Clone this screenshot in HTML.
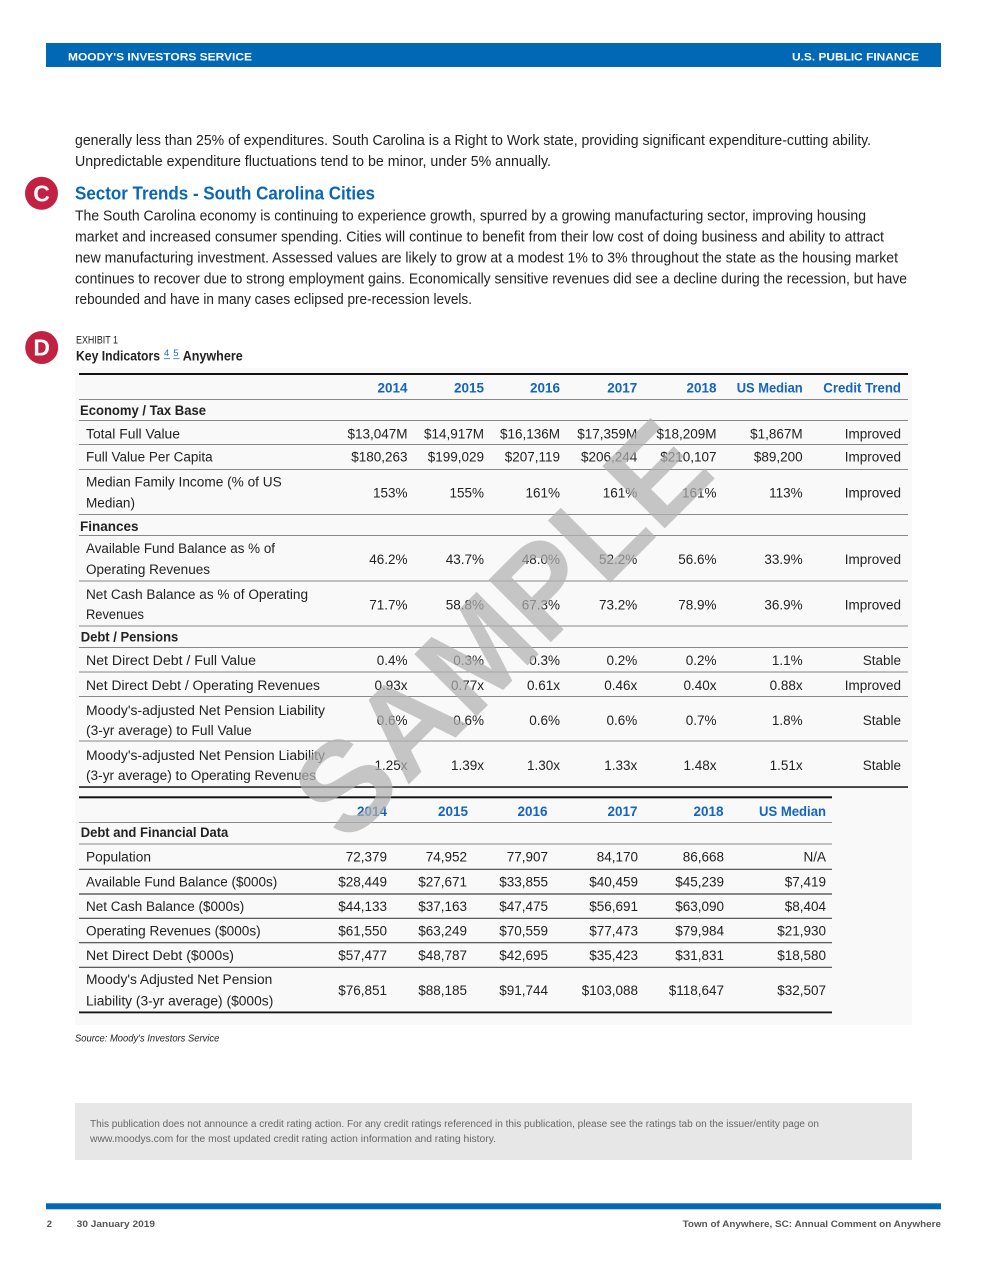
<!DOCTYPE html>
<html><head><meta charset="utf-8"><style>
html,body{margin:0;padding:0;background:#fff;}
svg{display:block;}
text{font-family:"Liberation Sans",Arial,sans-serif;}
</style></head><body>
<svg width="982" height="1271" viewBox="0 0 982 1271" xmlns="http://www.w3.org/2000/svg">
<rect width="982" height="1271" fill="#fff"/>
<!-- header -->
<rect x="46" y="43" width="895" height="24" fill="#0068b4"/>
<text x="68" y="60.5" font-size="11" font-weight="bold" fill="#fff" textLength="184" lengthAdjust="spacingAndGlyphs">MOODY'S INVESTORS SERVICE</text>
<text x="792" y="60.5" font-size="11" font-weight="bold" fill="#fff" textLength="127" lengthAdjust="spacingAndGlyphs">U.S. PUBLIC FINANCE</text>

<!-- paragraph 1 -->
<g font-size="14.5" fill="#222">
<text x="75" y="145" textLength="796" lengthAdjust="spacingAndGlyphs">generally less than 25% of expenditures. South Carolina is a Right to Work state, providing significant expenditure-cutting ability.</text>
<text x="75" y="166" textLength="476" lengthAdjust="spacingAndGlyphs">Unpredictable expenditure fluctuations tend to be minor, under 5% annually.</text>
</g>

<!-- C heading -->
<circle cx="41.5" cy="193.3" r="16.5" fill="#c32141"/>
<text x="41.5" y="201.5" font-size="23" font-weight="bold" fill="#fff" text-anchor="middle">C</text>
<text x="75" y="199.5" font-size="18" font-weight="bold" fill="#0a67b6" textLength="300" lengthAdjust="spacingAndGlyphs">Sector Trends - South Carolina Cities</text>

<g font-size="14.5" fill="#222">
<text x="75" y="220.7" textLength="791" lengthAdjust="spacingAndGlyphs">The South Carolina economy is continuing to experience growth, spurred by a growing manufacturing sector, improving housing</text>
<text x="75" y="241.7" textLength="809" lengthAdjust="spacingAndGlyphs">market and increased consumer spending. Cities will continue to benefit from their low cost of doing business and ability to attract</text>
<text x="75" y="262.3" textLength="823" lengthAdjust="spacingAndGlyphs">new manufacturing investment. Assessed values are likely to grow at a modest 1% to 3% throughout the state as the housing market</text>
<text x="75" y="283.3" textLength="832" lengthAdjust="spacingAndGlyphs">continues to recover due to strong employment gains. Economically sensitive revenues did see a decline during the recession, but have</text>
<text x="75" y="304" textLength="397" lengthAdjust="spacingAndGlyphs">rebounded and have in many cases eclipsed pre-recession levels.</text>
</g>

<!-- D exhibit -->
<circle cx="41.7" cy="347.5" r="16.5" fill="#c32141"/>
<text x="41.7" y="355.7" font-size="23" font-weight="bold" fill="#fff" text-anchor="middle">D</text>
<text x="76" y="343.3" font-size="11" fill="#222" textLength="42" lengthAdjust="spacingAndGlyphs">EXHIBIT 1</text>
<text x="76" y="360.7" font-size="13.5" font-weight="bold" fill="#222" textLength="84" lengthAdjust="spacingAndGlyphs">Key Indicators</text>
<text x="164" y="356" font-size="9.5" fill="#1a6bc4">4</text>
<line x1="164" y1="358.7" x2="170" y2="358.7" stroke="#1a6bc4" stroke-width="0.8"/>
<text x="173.3" y="356" font-size="9.5" fill="#1a6bc4">5</text>
<line x1="173.3" y1="358.7" x2="179.3" y2="358.7" stroke="#1a6bc4" stroke-width="0.8"/>
<text x="182.7" y="360.7" font-size="13.5" font-weight="bold" fill="#222" textLength="60" lengthAdjust="spacingAndGlyphs">Anywhere</text>

<!-- table background -->
<rect x="75" y="368" width="837" height="657" fill="#f9f9f9"/>

<!-- table 1 lines -->
<rect x="79" y="373" width="829" height="2" fill="#111"/>
<g stroke="#888" stroke-width="1">
<line x1="79" y1="399.5" x2="908" y2="399.5"/>
<line x1="79" y1="420.5" x2="908" y2="420.5"/>
<line x1="79" y1="444.5" x2="908" y2="444.5"/>
<line x1="79" y1="469.5" x2="908" y2="469.5"/>
<line x1="79" y1="514.5" x2="908" y2="514.5"/>
<line x1="79" y1="535.5" x2="908" y2="535.5"/>
<line x1="79" y1="581" x2="908" y2="581"/>
<line x1="79" y1="626" x2="908" y2="626"/>
<line x1="79" y1="647.5" x2="908" y2="647.5"/>
<line x1="79" y1="672" x2="908" y2="672"/>
<line x1="79" y1="696.5" x2="908" y2="696.5"/>
<line x1="79" y1="741" x2="908" y2="741"/>
</g>
<rect x="79" y="786.3" width="829" height="1.5" fill="#111"/>

<!-- table 1 header -->
<g font-size="13.5" font-weight="bold" fill="#1464c0" text-anchor="end">
<text x="407.5" y="392.3">2014</text>
<text x="484" y="392.3">2015</text>
<text x="560" y="392.3">2016</text>
<text x="637.3" y="392.3">2017</text>
<text x="716.5" y="392.3">2018</text>
<text x="802.7" y="392.3" textLength="66" lengthAdjust="spacingAndGlyphs">US Median</text>
<text x="901" y="392.3" textLength="77.7" lengthAdjust="spacingAndGlyphs">Credit Trend</text>
</g>

<!-- table 1 labels -->
<g font-size="13.5" font-weight="bold" fill="#222">
<text x="80" y="415" textLength="126" lengthAdjust="spacingAndGlyphs">Economy / Tax Base</text>
<text x="80" y="531">Finances</text>
<text x="80.7" y="641.7" textLength="97.6" lengthAdjust="spacingAndGlyphs">Debt / Pensions</text>
</g>
<g font-size="13.5" fill="#222">
<text x="86" y="438.3" textLength="94" lengthAdjust="spacingAndGlyphs">Total Full Value</text>
<text x="86" y="461.7" textLength="126.7" lengthAdjust="spacingAndGlyphs">Full Value Per Capita</text>
<text x="86" y="486.7" textLength="195.7" lengthAdjust="spacingAndGlyphs">Median Family Income (% of US</text>
<text x="86" y="507.3" textLength="49" lengthAdjust="spacingAndGlyphs">Median)</text>
<text x="86" y="553" textLength="189" lengthAdjust="spacingAndGlyphs">Available Fund Balance as % of</text>
<text x="86" y="574" textLength="124" lengthAdjust="spacingAndGlyphs">Operating Revenues</text>
<text x="86" y="599" textLength="222" lengthAdjust="spacingAndGlyphs">Net Cash Balance as % of Operating</text>
<text x="86" y="619" textLength="58" lengthAdjust="spacingAndGlyphs">Revenues</text>
<text x="86" y="665" textLength="170" lengthAdjust="spacingAndGlyphs">Net Direct Debt / Full Value</text>
<text x="86" y="690" textLength="234" lengthAdjust="spacingAndGlyphs">Net Direct Debt / Operating Revenues</text>
<text x="86" y="715" textLength="239" lengthAdjust="spacingAndGlyphs">Moody's-adjusted Net Pension Liability</text>
<text x="86" y="735" textLength="165.7" lengthAdjust="spacingAndGlyphs">(3-yr average) to Full Value</text>
<text x="86" y="760" textLength="239" lengthAdjust="spacingAndGlyphs">Moody's-adjusted Net Pension Liability</text>
<text x="86" y="780" textLength="230" lengthAdjust="spacingAndGlyphs">(3-yr average) to Operating Revenues</text>
</g>

<!-- table 1 values -->
<g font-size="13.5" fill="#222" text-anchor="end">
<text x="407.5" y="438.3">$13,047M</text><text x="484" y="438.3">$14,917M</text><text x="560" y="438.3">$16,136M</text><text x="637.3" y="438.3">$17,359M</text><text x="716.5" y="438.3">$18,209M</text><text x="802.7" y="438.3">$1,867M</text><text x="901" y="438.3">Improved</text>
<text x="407.5" y="461.7">$180,263</text><text x="484" y="461.7">$199,029</text><text x="560" y="461.7">$207,119</text><text x="637.3" y="461.7">$206,244</text><text x="716.5" y="461.7">$210,107</text><text x="802.7" y="461.7">$89,200</text><text x="901" y="461.7">Improved</text>
<text x="407.5" y="497.5">153%</text><text x="484" y="497.5">155%</text><text x="560" y="497.5">161%</text><text x="637.3" y="497.5">161%</text><text x="716.5" y="497.5">161%</text><text x="802.7" y="497.5">113%</text><text x="901" y="497.5">Improved</text>
<text x="407.5" y="564">46.2%</text><text x="484" y="564">43.7%</text><text x="560" y="564">48.0%</text><text x="637.3" y="564">52.2%</text><text x="716.5" y="564">56.6%</text><text x="802.7" y="564">33.9%</text><text x="901" y="564">Improved</text>
<text x="407.5" y="609.3">71.7%</text><text x="484" y="609.3">58.8%</text><text x="560" y="609.3">67.3%</text><text x="637.3" y="609.3">73.2%</text><text x="716.5" y="609.3">78.9%</text><text x="802.7" y="609.3">36.9%</text><text x="901" y="609.3">Improved</text>
<text x="407.5" y="665">0.4%</text><text x="484" y="665">0.3%</text><text x="560" y="665">0.3%</text><text x="637.3" y="665">0.2%</text><text x="716.5" y="665">0.2%</text><text x="802.7" y="665">1.1%</text><text x="901" y="665">Stable</text>
<text x="407.5" y="690">0.93x</text><text x="484" y="690">0.77x</text><text x="560" y="690">0.61x</text><text x="637.3" y="690">0.46x</text><text x="716.5" y="690">0.40x</text><text x="802.7" y="690">0.88x</text><text x="901" y="690">Improved</text>
<text x="407.5" y="725">0.6%</text><text x="484" y="725">0.6%</text><text x="560" y="725">0.6%</text><text x="637.3" y="725">0.6%</text><text x="716.5" y="725">0.7%</text><text x="802.7" y="725">1.8%</text><text x="901" y="725">Stable</text>
<text x="407.5" y="770">1.25x</text><text x="484" y="770">1.39x</text><text x="560" y="770">1.30x</text><text x="637.3" y="770">1.33x</text><text x="716.5" y="770">1.48x</text><text x="802.7" y="770">1.51x</text><text x="901" y="770">Stable</text>
</g>

<!-- table 2 -->
<rect x="79" y="796.3" width="753" height="2" fill="#111"/>
<g stroke="#888" stroke-width="1">
<line x1="79" y1="822.5" x2="832" y2="822.5"/>
<line x1="79" y1="844" x2="832" y2="844"/>
</g>
<g stroke="#444" stroke-width="1.2">
<line x1="79" y1="869.3" x2="832" y2="869.3"/>
<line x1="79" y1="894" x2="832" y2="894"/>
<line x1="79" y1="918.3" x2="832" y2="918.3"/>
<line x1="79" y1="942.7" x2="832" y2="942.7"/>
<line x1="79" y1="967.3" x2="832" y2="967.3"/>
</g>
<rect x="79" y="1011.5" width="753" height="1.8" fill="#111"/>

<g font-size="13.5" font-weight="bold" fill="#1464c0" text-anchor="end">
<text x="387" y="816">2014</text>
<text x="468" y="816">2015</text>
<text x="547.5" y="816">2016</text>
<text x="637.5" y="816">2017</text>
<text x="723.5" y="816">2018</text>
<text x="826" y="816" textLength="67" lengthAdjust="spacingAndGlyphs">US Median</text>
</g>
<text x="80.7" y="837" font-size="13.5" font-weight="bold" fill="#222" textLength="147.6" lengthAdjust="spacingAndGlyphs">Debt and Financial Data</text>
<g font-size="13.5" fill="#222">
<text x="86" y="861.7" textLength="65" lengthAdjust="spacingAndGlyphs">Population</text>
<text x="86" y="886.7" textLength="191.3" lengthAdjust="spacingAndGlyphs">Available Fund Balance ($000s)</text>
<text x="86" y="911" textLength="158.3" lengthAdjust="spacingAndGlyphs">Net Cash Balance ($000s)</text>
<text x="86" y="935.7" textLength="174.7" lengthAdjust="spacingAndGlyphs">Operating Revenues ($000s)</text>
<text x="86" y="960" textLength="148" lengthAdjust="spacingAndGlyphs">Net Direct Debt ($000s)</text>
<text x="86" y="984" textLength="186.3" lengthAdjust="spacingAndGlyphs">Moody's Adjusted Net Pension</text>
<text x="86" y="1005.7" textLength="187.3" lengthAdjust="spacingAndGlyphs">Liability (3-yr average) ($000s)</text>
</g>
<g font-size="13.5" fill="#222" text-anchor="end">
<text x="387" y="861.7">72,379</text><text x="467" y="861.7">74,952</text><text x="548" y="861.7">77,907</text><text x="638" y="861.7">84,170</text><text x="724" y="861.7">86,668</text><text x="826" y="861.7">N/A</text>
<text x="387" y="886.7">$28,449</text><text x="467" y="886.7">$27,671</text><text x="548" y="886.7">$33,855</text><text x="638" y="886.7">$40,459</text><text x="724" y="886.7">$45,239</text><text x="826" y="886.7">$7,419</text>
<text x="387" y="911">$44,133</text><text x="467" y="911">$37,163</text><text x="548" y="911">$47,475</text><text x="638" y="911">$56,691</text><text x="724" y="911">$63,090</text><text x="826" y="911">$8,404</text>
<text x="387" y="935.7">$61,550</text><text x="467" y="935.7">$63,249</text><text x="548" y="935.7">$70,559</text><text x="638" y="935.7">$77,473</text><text x="724" y="935.7">$79,984</text><text x="826" y="935.7">$21,930</text>
<text x="387" y="960">$57,477</text><text x="467" y="960">$48,787</text><text x="548" y="960">$42,695</text><text x="638" y="960">$35,423</text><text x="724" y="960">$31,831</text><text x="826" y="960">$18,580</text>
<text x="387" y="995">$76,851</text><text x="467" y="995">$88,185</text><text x="548" y="995">$91,744</text><text x="638" y="995">$103,088</text><text x="724" y="995">$118,647</text><text x="826" y="995">$32,507</text>
</g>

<!-- watermark -->
<text x="500" y="674" transform="rotate(-45 500 628)" text-anchor="middle" font-size="128" font-weight="bold" fill="#b0b0b0" fill-opacity="0.72" textLength="525" lengthAdjust="spacingAndGlyphs">SAMPLE</text>

<!-- source -->
<text x="75" y="1041.7" font-size="10" font-style="italic" fill="#222" textLength="144.3" lengthAdjust="spacingAndGlyphs">Source: Moody's Investors Service</text>

<!-- disclaimer -->
<rect x="75" y="1103" width="837" height="57" fill="#e7e7e7"/>
<g font-size="10" fill="#666">
<text x="90" y="1127" textLength="729" lengthAdjust="spacingAndGlyphs">This publication does not announce a credit rating action. For any credit ratings referenced in this publication, please see the ratings tab on the issuer/entity page on</text>
<text x="90" y="1142" textLength="406" lengthAdjust="spacingAndGlyphs">www.moodys.com for the most updated credit rating action information and rating history.</text>
</g>

<!-- footer -->
<rect x="46" y="1203.3" width="895" height="6" fill="#0068b4"/>
<g font-size="9.5" font-weight="bold" fill="#555">
<text x="46.7" y="1227">2</text>
<text x="76.7" y="1227" textLength="78.3" lengthAdjust="spacingAndGlyphs">30 January 2019</text>
<text x="941" y="1227" text-anchor="end" textLength="258.4" lengthAdjust="spacingAndGlyphs">Town of Anywhere, SC: Annual Comment on Anywhere</text>
</g>
</svg>
</body></html>
